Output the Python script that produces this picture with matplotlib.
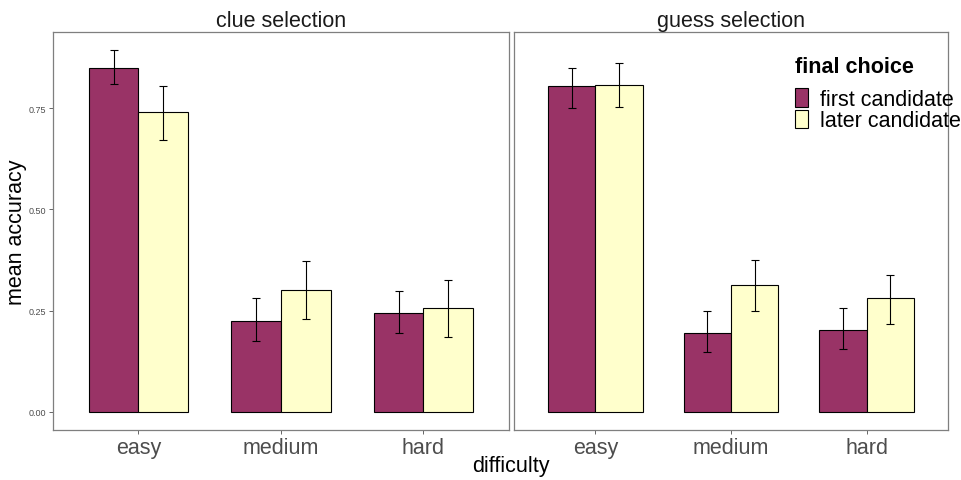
import matplotlib
matplotlib.use("Agg")
import matplotlib.pyplot as plt
import numpy as np
from matplotlib.patches import Patch

plt.rcParams['font.family'] = ['Liberation Sans', 'DejaVu Sans']

panels = ["clue selection", "guess selection"]
difficulty = ["easy", "medium", "hard"]
series = ["first candidate", "later candidate"]
colors = ["#993366", "#FFFFCC"]

# mean accuracy [panel][series][difficulty]
means = {
    "clue selection": {"first candidate": [0.850, 0.225, 0.243],
                       "later candidate": [0.741, 0.301, 0.256]},
    "guess selection": {"first candidate": [0.805, 0.195, 0.203],
                        "later candidate": [0.808, 0.313, 0.280]},
}
lower = {
    "clue selection": {"first candidate": [0.809, 0.174, 0.195],
                       "later candidate": [0.671, 0.229, 0.186]},
    "guess selection": {"first candidate": [0.751, 0.147, 0.155],
                        "later candidate": [0.752, 0.249, 0.216]},
}
upper = {
    "clue selection": {"first candidate": [0.893, 0.280, 0.298],
                       "later candidate": [0.804, 0.372, 0.325]},
    "guess selection": {"first candidate": [0.849, 0.248, 0.256],
                        "later candidate": [0.861, 0.376, 0.339]},
}
yticks = [0.00, 0.25, 0.50, 0.75]

fig = plt.figure(figsize=(9.62, 4.81), dpi=100)
W, H = 962, 481
axL = fig.add_axes([53 / W, 1 - 431 / H, 456 / W, 398 / H])
axR = fig.add_axes([514 / W, 1 - 431 / H, 434 / W, 398 / H])

x = np.arange(1, len(difficulty) + 1)
bw = 0.35
for ax, p in zip([axL, axR], panels):
    for i, s in enumerate(series):
        xs = x + (i - 0.5) * bw
        m = np.array(means[p][s])
        lo = np.array(lower[p][s])
        hi = np.array(upper[p][s])
        ax.bar(xs, m, width=bw, color=colors[i], edgecolor="black", linewidth=0.8, zorder=2)
        ax.errorbar(xs, m, yerr=[m - lo, hi - m], fmt="none", ecolor="black",
                    elinewidth=0.8, capsize=2.6, capthick=0.8, zorder=3)
    ax.set_xlim(0.4, 3.6)
    ax.set_ylim(-0.0447, 0.938)
    ax.set_xticks(x)
    ax.set_xticklabels(difficulty, fontsize=15.5, color="#4d4d4d")
    ax.tick_params(axis="x", length=3, color="#4d4d4d", width=0.6, pad=2)
    for sp in ax.spines.values():
        sp.set_color("#7f7f7f")
        sp.set_linewidth(0.9)
    ax.set_title(p, fontsize=15.5, pad=4, color="#1a1a1a")

axL.set_yticks(yticks)
axL.set_yticklabels([f"{v:.2f}" for v in yticks], fontsize=6.5, color="#4d4d4d")
axL.tick_params(axis="y", length=3, color="#4d4d4d", width=0.6, pad=2)
axL.set_ylabel("mean accuracy", fontsize=15.5, labelpad=1)
axR.set_yticks([])

fig.text(511 / W, 1 - 467 / H, "difficulty", fontsize=15.5, ha="center", va="center")

handles = [Patch(facecolor=colors[i], edgecolor="black", linewidth=0.8, label=s)
           for i, s in enumerate(series)]
leg = axR.legend(handles=handles, title="final choice", loc="upper left",
                 bbox_to_anchor=((795 - 514) / 434, 1 - (57 - 33) / 398), frameon=False,
                 fontsize=15.5, title_fontproperties={"weight": "bold", "size": 15.5},
                 handlelength=0.6, handleheight=0.95, handletextpad=0.55,
                 labelspacing=0.0, borderaxespad=0, borderpad=0)
leg._legend_box.align = "left"
leg._legend_box.sep = 8

fig.savefig("out.png", dpi=100)
